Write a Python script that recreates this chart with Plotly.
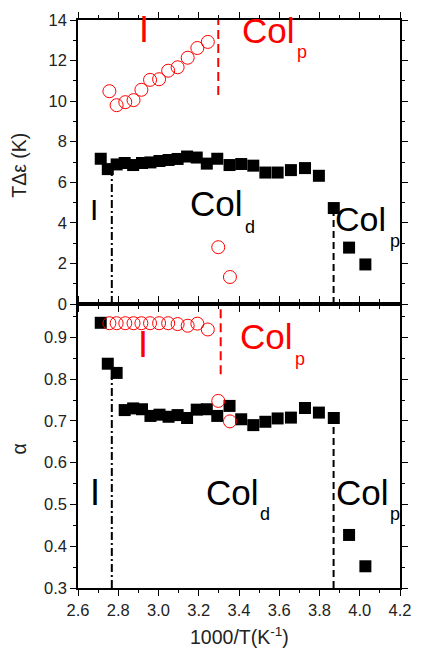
import plotly.graph_objects as go

# ---------------- data ----------------
# black squares (same temperatures in both panels)
sq_x = [2.713, 2.748, 2.792, 2.832, 2.874, 2.918, 2.960, 3.005, 3.050, 3.095, 3.142, 3.190,
        3.240, 3.292, 3.353, 3.411, 3.471, 3.531, 3.592, 3.658, 3.728, 3.797, 3.871, 3.947, 4.028]
sq_tde = [7.16, 6.65, 6.88, 6.95, 6.85, 6.95, 6.98, 7.05, 7.10, 7.15, 7.27, 7.22,
          6.92, 7.16, 6.85, 6.90, 6.82, 6.48, 6.48, 6.60, 6.70, 6.32, 4.73, 2.78, 1.95]
sq_alpha = [0.935, 0.837, 0.815, 0.726, 0.730, 0.728, 0.712, 0.715, 0.710, 0.714, 0.707, 0.727,
            0.728, 0.712, 0.736, 0.704, 0.690, 0.698, 0.706, 0.708, 0.731, 0.720, 0.707, 0.427, 0.352]

# red open circles
ci_x = [2.756, 2.792, 2.835, 2.876, 2.915, 2.958, 3.003, 3.048, 3.095, 3.145, 3.193, 3.245, 3.297, 3.355]
ci_tde = [10.49, 9.80, 9.95, 10.05, 10.56, 11.05, 11.08, 11.50, 11.67, 12.14, 12.62, 12.92, 2.80, 1.33]
ci_alpha = [0.934, 0.934, 0.934, 0.934, 0.934, 0.934, 0.934, 0.934, 0.932, 0.928, 0.933, 0.919, 0.748, 0.699]

# phase boundaries (x position, y start, y end)
b_dashdot_x = 2.768
b_dashdot_top = [0, 6.6]
b_dashdot_bot = [0.3, 0.805]
b_dash_x = 3.870
b_dash_top = [0, 4.8]
b_dash_bot = [0.3, 0.69]
b_red_top_x = 3.297
b_red_top = [10.3, 14]
b_red_bot_x = 3.309
b_red_bot = [0.812, 0.98]

FONT = "Liberation Sans"
RED = "#ff0000"

fig = go.Figure()

# top panel (x2, y2)
fig.add_trace(go.Scatter(x=[b_dashdot_x, b_dashdot_x], y=b_dashdot_top, mode="lines",
                         line=dict(color="black", width=2, dash="8px,3px,2px,3px"),
                         xaxis="x2", yaxis="y2", showlegend=False))
fig.add_trace(go.Scatter(x=[b_dash_x, b_dash_x], y=b_dash_top, mode="lines",
                         line=dict(color="black", width=2, dash="7px,4px"),
                         xaxis="x2", yaxis="y2", showlegend=False))
fig.add_trace(go.Scatter(x=[b_red_top_x, b_red_top_x], y=b_red_top, mode="lines",
                         line=dict(color=RED, width=2, dash="9px,5px"),
                         xaxis="x2", yaxis="y2", showlegend=False))
fig.add_trace(go.Scatter(x=sq_x, y=sq_tde, mode="markers",
                         marker=dict(symbol="square", size=12, color="black"),
                         xaxis="x2", yaxis="y2", showlegend=False))
fig.add_trace(go.Scatter(x=ci_x, y=ci_tde, mode="markers",
                         marker=dict(symbol="circle-open", size=13, color=RED, line=dict(width=1)),
                         xaxis="x2", yaxis="y2", showlegend=False))

# bottom panel (x, y)
fig.add_trace(go.Scatter(x=[b_dashdot_x, b_dashdot_x], y=b_dashdot_bot, mode="lines",
                         line=dict(color="black", width=2, dash="8px,3px,2px,3px"),
                         showlegend=False))
fig.add_trace(go.Scatter(x=[b_dash_x, b_dash_x], y=b_dash_bot, mode="lines",
                         line=dict(color="black", width=2, dash="7px,4px"),
                         showlegend=False))
fig.add_trace(go.Scatter(x=[b_red_bot_x, b_red_bot_x], y=b_red_bot, mode="lines",
                         line=dict(color=RED, width=2, dash="9px,5px"),
                         showlegend=False))
fig.add_trace(go.Scatter(x=sq_x, y=sq_alpha, mode="markers",
                         marker=dict(symbol="square", size=12, color="black"),
                         showlegend=False))
fig.add_trace(go.Scatter(x=ci_x, y=ci_alpha, mode="markers",
                         marker=dict(symbol="circle-open", size=13, color=RED, line=dict(width=1)),
                         showlegend=False))

# phase labels: (text, x, y, axis, size, color)
labels = [
    ("I", 2.926, 13.52, "2", 36, RED),
    ("Col", 3.547, 13.50, "2", 35, RED),
    ("p", 3.712, 12.42, "2", 18, RED),
    ("I", 2.680, 4.67, "2", 30, "black"),
    ("Col", 3.288, 4.94, "2", 35, "black"),
    ("d", 3.455, 3.81, "2", 18, "black"),
    ("Col", 4.006, 4.19, "2", 34, "black"),
    ("p", 4.176, 3.12, "2", 18, "black"),
    ("I", 2.922, 0.882, "", 36, RED),
    ("Col", 3.539, 0.901, "", 35, RED),
    ("p", 3.703, 0.848, "", 18, RED),
    ("I", 2.684, 0.529, "", 36, "black"),
    ("Col", 3.367, 0.528, "", 35, "black"),
    ("d", 3.527, 0.477, "", 18, "black"),
    ("Col", 4.014, 0.528, "", 35, "black"),
    ("p", 4.176, 0.476, "", 18, "black"),
]
for t, lx, ly, ax, s, c in labels:
    fig.add_annotation(text=t, x=lx, y=ly, xref="x" + ax, yref="y" + ax, showarrow=False,
                       xanchor="center", yanchor="middle",
                       font=dict(family=FONT, size=s, color=c))

# axis titles
fig.add_annotation(text="TΔε (K)", x=-0.183, y=0.7435, xref="paper", yref="paper",
                   textangle=-90, showarrow=False, xanchor="center", yanchor="middle",
                   font=dict(family=FONT, size=19.5, color="#222"))
fig.add_annotation(text="α", x=-0.183, y=0.244, xref="paper", yref="paper",
                   textangle=-90, showarrow=False, xanchor="center", yanchor="middle",
                   font=dict(family=FONT, size=19.5, color="#222"))
fig.add_annotation(text="1000/T(K<sup>-1</sup>)", x=0.5, y=-0.085, xref="paper", yref="paper",
                   showarrow=False, xanchor="center", yanchor="middle",
                   font=dict(family=FONT, size=19.5, color="#222"))

axis_common = dict(showline=True, linecolor="black", linewidth=1.5, ticks="outside",
                   tickcolor="black", tickwidth=1.2, ticklen=6, showgrid=False, zeroline=False,
                   tickfont=dict(family=FONT, size=16.5, color="#222"))

fig.update_layout(
    width=422, height=653,
    margin=dict(l=78, r=14, t=11, b=65),
    paper_bgcolor="white", plot_bgcolor="white",
    font=dict(family=FONT, color="black"),
    xaxis=dict(axis_common, range=[2.6, 4.2], tick0=2.6, dtick=0.2, tickformat=".1f",
               mirror="allticks", anchor="y",
               minor=dict(dtick=0.1, ticks="outside", ticklen=3, tickcolor="black")),
    yaxis=dict(axis_common, range=[0.3, 0.98], tick0=0.3, dtick=0.1, tickformat=".1f",
               domain=[0, 0.5], mirror="allticks", anchor="x",
               minor=dict(dtick=0.05, ticks="outside", ticklen=3, tickcolor="black")),
    xaxis2=dict(axis_common, range=[2.6, 4.2], tick0=2.6, dtick=0.2, matches="x",
                showticklabels=False, mirror="allticks", anchor="y2",
                minor=dict(dtick=0.1, ticks="outside", ticklen=3, tickcolor="black")),
    yaxis2=dict(axis_common, range=[0, 14], tick0=0, dtick=2, domain=[0.5, 1],
                mirror="allticks", anchor="x2",
                minor=dict(dtick=1, ticks="outside", ticklen=3, tickcolor="black")),
)

fig.write_html("out.html")
